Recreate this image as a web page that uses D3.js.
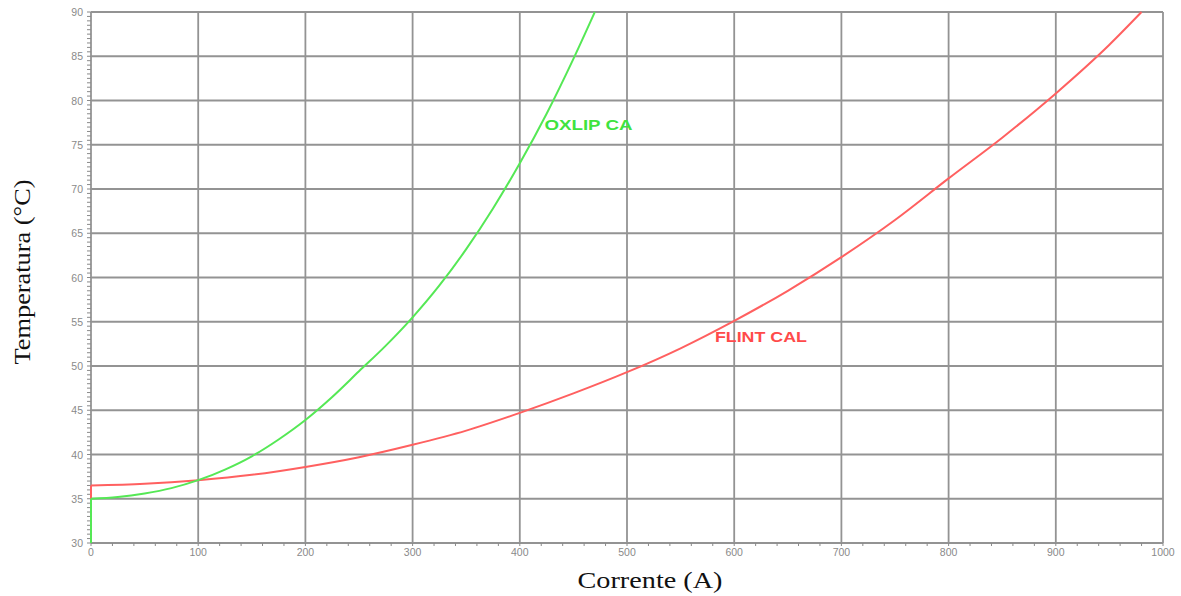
<!DOCTYPE html>
<html>
<head>
<meta charset="utf-8">
<title>Temperatura x Corrente</title>
<script src="https://cdnjs.cloudflare.com/ajax/libs/d3/7.8.5/d3.min.js"></script>
<style>
  body { margin: 0; background: #fff; }
  .tick-label { font-family: "Liberation Sans", Arial, sans-serif; font-size: 10.5px; fill: #8a8a8a; }
  .axis-title { font-family: "Liberation Serif", "Times New Roman", serif; font-size: 24px; fill: #111; }
  .curve-label { font-family: "Liberation Sans", Arial, sans-serif; font-size: 14px; font-weight: bold; }
</style>
</head>
<body>
<div id="chart"></div>
<script>
// data
var xTicks = [0, 100, 200, 300, 400, 500, 600, 700, 800, 900, 1000];
var yTicks = [30, 35, 40, 45, 50, 55, 60, 65, 70, 75, 80, 85, 90];

var oxlipCurrent = [0, 0, 25, 50, 75, 100, 125, 150, 175, 200, 225, 250, 275, 300, 325, 350, 375, 400, 425, 450, 470];
var oxlipTemp    = [30, 35, 35.2, 35.6, 36.2, 37.1, 38.3, 39.8, 41.7, 43.9, 46.5, 49.4, 52.3, 55.5, 59.1, 63.2, 67.8, 72.9, 78.5, 84.7, 90];

var flintCurrent = [0, 0, 50, 100, 150, 200, 250, 300, 350, 400, 450, 500, 550, 600, 650, 700, 750, 800, 850, 900, 950, 980];
var flintTemp    = [35, 36.5, 36.7, 37.1, 37.7, 38.6, 39.7, 41.1, 42.7, 44.7, 46.9, 49.3, 52.0, 55.1, 58.5, 62.3, 66.5, 71.2, 75.8, 80.8, 86.3, 90];

var width = 1181, height = 596;
var margin = {top: 12, right: 18, bottom: 53, left: 91};
var w = width - margin.left - margin.right;
var h = height - margin.top - margin.bottom;

var svg = d3.select("#chart").append("svg").attr("width", width).attr("height", height);
var g = svg.append("g").attr("transform", "translate(" + margin.left + "," + margin.top + ")");

var x = d3.scaleLinear().domain([0, 1000]).range([0, w]);
var y = d3.scaleLinear().domain([30, 90]).range([h, 0]);

// grid
g.selectAll(".vgrid").data(xTicks).enter().append("line")
  .attr("x1", function(d) { return x(d); }).attr("x2", function(d) { return x(d); })
  .attr("y1", 0).attr("y2", h)
  .attr("stroke", "#939393").attr("stroke-width", 1.8);
g.selectAll(".hgrid").data(yTicks).enter().append("line")
  .attr("y1", function(d) { return y(d); }).attr("y2", function(d) { return y(d); })
  .attr("x1", 0).attr("x2", w)
  .attr("stroke", "#939393").attr("stroke-width", 1.8);

// minor ticks
var yMinor = d3.range(30, 90.01, 0.5);
g.selectAll(".ymin").data(yMinor).enter().append("line")
  .attr("x1", -4).attr("x2", 0)
  .attr("y1", function(d) { return y(d); }).attr("y2", function(d) { return y(d); })
  .attr("stroke", "#8a8a8a").attr("stroke-width", 1);
var xMinor = d3.range(0, 1000.01, 20);
g.selectAll(".xmin").data(xMinor).enter().append("line")
  .attr("y1", h).attr("y2", h + 3)
  .attr("x1", function(d) { return x(d); }).attr("x2", function(d) { return x(d); })
  .attr("stroke", "#8a8a8a").attr("stroke-width", 1);

// tick labels
g.selectAll(".ylab").data(yTicks).enter().append("text").attr("class", "tick-label")
  .attr("x", -8).attr("y", function(d) { return y(d) + 4; })
  .attr("text-anchor", "end").text(function(d) { return d; });
g.selectAll(".xlab").data(xTicks).enter().append("text").attr("class", "tick-label")
  .attr("x", function(d) { return x(d); }).attr("y", h + 13)
  .attr("text-anchor", "middle").text(function(d) { return d; });

// curves
var line = d3.line().x(function(d) { return x(d[0]); }).y(function(d) { return y(d[1]); })
  .curve(d3.curveMonotoneX);
var lineRaw = d3.line().x(function(d) { return x(d[0]); }).y(function(d) { return y(d[1]); });

function drawCurve(xs, ys, color) {
  var pts = xs.map(function(v, i) { return [v, ys[i]]; });
  // vertical jump at 0 then smooth curve
  g.append("path").attr("d", lineRaw(pts.slice(0, 2)))
    .attr("fill", "none").attr("stroke", color).attr("stroke-width", 2);
  g.append("path").attr("d", line(pts.slice(1)))
    .attr("fill", "none").attr("stroke", color).attr("stroke-width", 2);
}
drawCurve(flintCurrent, flintTemp, "#ff6060");
drawCurve(oxlipCurrent, oxlipTemp, "#55e855");

// curve labels
g.append("text").attr("class", "curve-label").attr("fill", "#3fe33f")
  .attr("x", x(423)).attr("y", y(76.7))
  .attr("textLength", 88).attr("lengthAdjust", "spacingAndGlyphs").text("OXLIP CA");
g.append("text").attr("class", "curve-label").attr("fill", "#ff4a4a")
  .attr("x", x(582)).attr("y", y(52.7))
  .attr("textLength", 92).attr("lengthAdjust", "spacingAndGlyphs").text("FLINT CAL");

// axis titles
svg.append("text").attr("class", "axis-title")
  .attr("transform", "translate(30," + 272 + ") rotate(-90)")
  .attr("text-anchor", "middle")
  .attr("textLength", 185).attr("lengthAdjust", "spacingAndGlyphs").text("Temperatura (°C)");
svg.append("text").attr("class", "axis-title")
  .attr("x", 650).attr("y", 588)
  .attr("text-anchor", "middle")
  .attr("textLength", 145).attr("lengthAdjust", "spacingAndGlyphs").text("Corrente (A)");
</script>
</body>
</html>
